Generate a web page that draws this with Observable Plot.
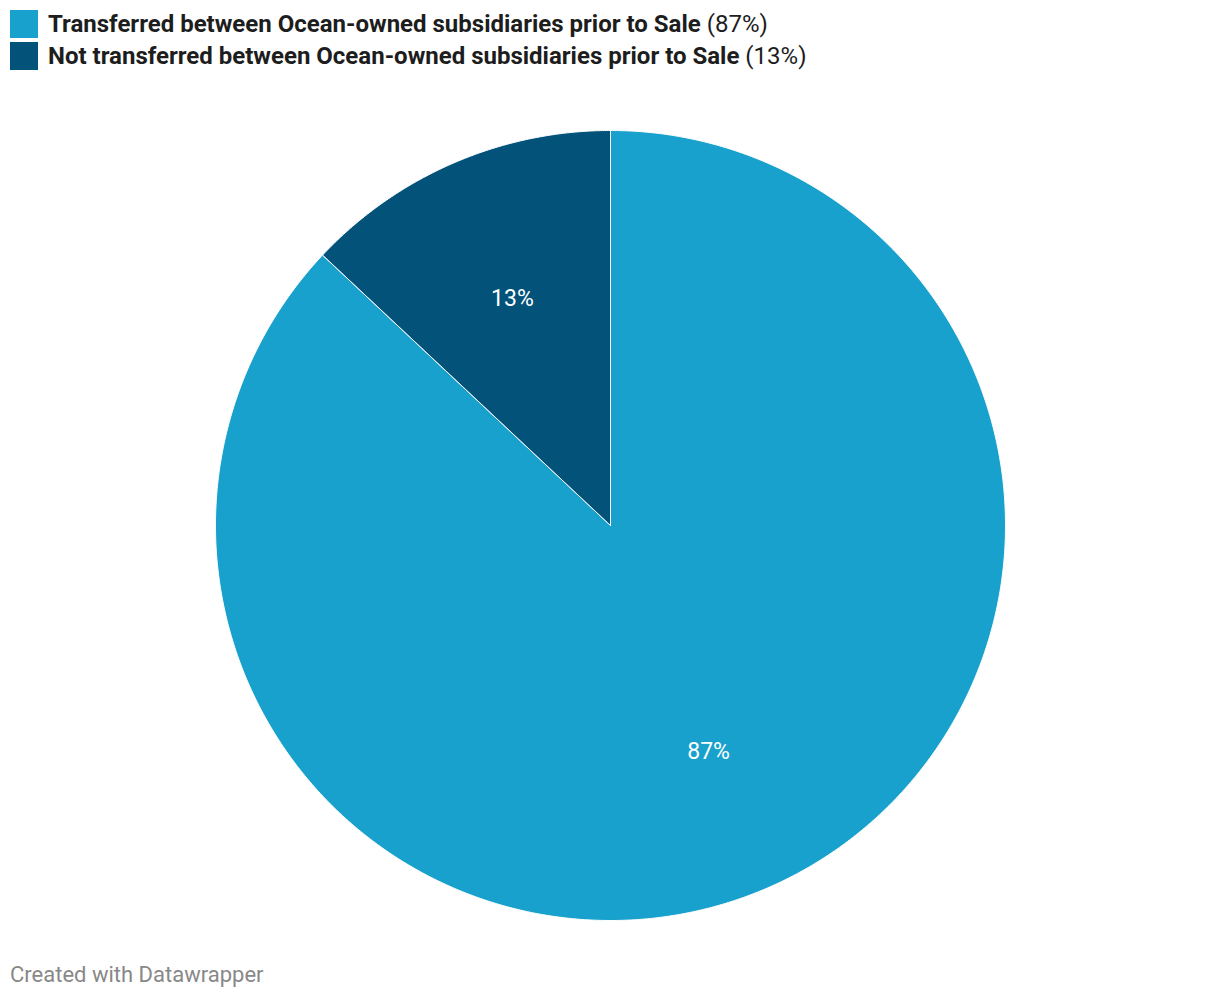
<!DOCTYPE html>
<html>
<head>
<meta charset="utf-8">
<script src="https://cdn.jsdelivr.net/npm/d3@7"></script>
<script src="https://cdn.jsdelivr.net/npm/@observablehq/plot@0.6"></script>
<style>
  html, body { margin: 0; padding: 0; background: #fff; }
  body { width: 1220px; height: 998px; position: relative; font-family: Roboto, "Noto Sans", sans-serif; }
  #legend { position: absolute; left: 10px; top: 10px; }
  .item { display: flex; align-items: center; height: 28px; margin-bottom: 4px; font-size: 24px; color: #1d1d1d; white-space: nowrap; }
  .sw { width: 28px; height: 28px; margin-right: 10px; flex: none; }
  .item b { font-weight: 700; }
  #chart { position: absolute; left: 0; top: 80px; }
  #footer { position: absolute; left: 10px; top: 962px; font-size: 22px; color: #888; }
</style>
</head>
<body>
<div id="legend"></div>
<div id="chart"></div>
<div id="footer">Created with Datawrapper</div>
<script>
const categories = [
  "Transferred between Ocean-owned subsidiaries prior to Sale",
  "Not transferred between Ocean-owned subsidiaries prior to Sale"
];
const values = [87, 13];
const colors = ["#19a1cd", "#03527a"];
const labels = ["87%", "13%"];

// legend
const legend = document.getElementById("legend");
categories.forEach((c, i) => {
  const d = document.createElement("div");
  d.className = "item";
  d.innerHTML = `<span class="sw" style="background:${colors[i]}"></span><span><b>${c}</b> (${labels[i]})</span>`;
  legend.appendChild(d);
});

// pie geometry (clockwise from 12 o'clock)
const pie = d3.pie().sort(null).value(d => d.value);
const slices = pie(categories.map((c, i) => ({ cat: c, value: values[i], label: labels[i] })));
const polys = [];
const cents = [];
slices.forEach(s => {
  const n = Math.max(4, Math.ceil((s.endAngle - s.startAngle) / 0.005));
  polys.push({ cat: s.data.cat, x: 0, y: 0 });
  for (let k = 0; k <= n; k++) {
    const a = s.startAngle + (s.endAngle - s.startAngle) * k / n;
    polys.push({ cat: s.data.cat, x: Math.sin(a), y: Math.cos(a) });
  }
  polys.push({ cat: s.data.cat, x: 0, y: 0 });
  const m = (s.startAngle + s.endAngle) / 2;
  cents.push({ label: s.data.label, x: 0.625 * Math.sin(m), y: 0.625 * Math.cos(m) });
});

const chart = Plot.plot({
  width: 1220,
  height: 890,
  marginLeft: 215,
  marginRight: 215,
  marginTop: 50,
  marginBottom: 50,
  x: { domain: [-1, 1], axis: null },
  y: { domain: [-1, 1], axis: null },
  color: { domain: categories, range: colors },
  style: { fontFamily: "Roboto, sans-serif", background: "white" },
  marks: [
    ...categories.map((c, i) => Plot.line(polys.filter(p => p.cat === c), {
      x: "x", y: "y", fill: colors[i], stroke: "white", strokeWidth: 1, curve: "linear"
    })),
    Plot.text(cents, { x: "x", y: "y", text: "label", fill: "white", fontSize: 23 })
  ]
});
document.getElementById("chart").appendChild(chart);
</script>
</body>
</html>
